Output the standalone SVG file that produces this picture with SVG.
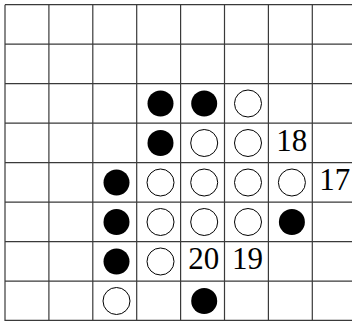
<svg xmlns="http://www.w3.org/2000/svg" width="352" height="321" viewBox="0 0 352 321">
<style>
.g{stroke:#3a3a3a;stroke-width:1.2;fill:none}
.b{fill:#000}
.w{fill:#fff;stroke:#000;stroke-width:1}
.t{font-family:"Liberation Serif",serif;font-size:31px;text-anchor:middle;fill:#000}
</style>
<rect width="352" height="321" fill="#fff"/>
<g id="grid" class="g">
<path d="M5,4.7V321M48.9,4.7V321M92.8,4.7V321M136.7,4.7V321M180.6,4.7V321M224.5,4.7V321M268.4,4.7V321M312.3,4.7V321"/>
<path d="M5,4.7H352M5,44.2H352M5,83.7H352M5,123.2H352M5,162.7H352M5,202.2H352M5,241.7H352M5,281.2H352M5,320.4H352"/>
</g>
<g id="stones">
<circle class="b" cx="160.5" cy="103.5" r="13"/>
<circle class="b" cx="204.2" cy="103.5" r="13"/>
<circle class="w" cx="248" cy="103.5" r="13.5"/>
<circle class="b" cx="160.5" cy="143" r="13"/>
<circle class="w" cx="204.2" cy="143" r="13.5"/>
<circle class="w" cx="248" cy="143" r="13.5"/>
<circle class="b" cx="116.5" cy="182.5" r="13"/>
<circle class="w" cx="160.5" cy="182.5" r="13.5"/>
<circle class="w" cx="204.2" cy="182.5" r="13.5"/>
<circle class="w" cx="248" cy="182.5" r="13.5"/>
<circle class="w" cx="291.9" cy="182.5" r="13.5"/>
<circle class="b" cx="116.5" cy="222" r="13"/>
<circle class="w" cx="160.5" cy="222" r="13.5"/>
<circle class="w" cx="204.2" cy="222" r="13.5"/>
<circle class="w" cx="248" cy="222" r="13.5"/>
<circle class="b" cx="291.9" cy="222" r="13"/>
<circle class="b" cx="116.5" cy="261.5" r="13"/>
<circle class="w" cx="160.5" cy="261.5" r="13.5"/>
<circle class="w" cx="116.5" cy="301" r="13.5"/>
<circle class="b" cx="204.2" cy="301" r="13"/>
</g>
<g id="labels">
<text class="t" x="291.8" y="151.3">18</text>
<text class="t" x="334.8" y="190.3">17</text>
<text class="t" x="203.7" y="269.3">20</text>
<text class="t" x="247.5" y="269.3">19</text>
</g>
</svg>
